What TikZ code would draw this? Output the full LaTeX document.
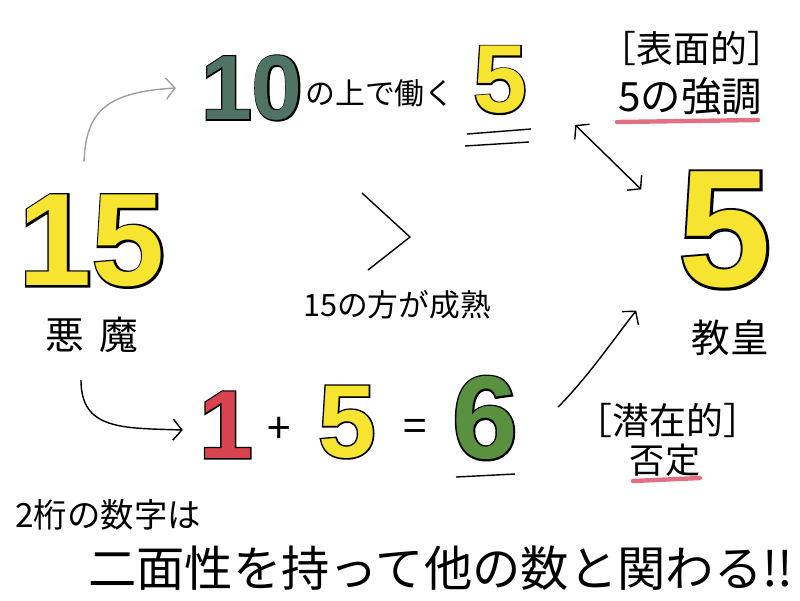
\documentclass[tikz,border=0pt]{standalone}
\usepackage{fontspec}
\setmainfont{Noto Sans CJK JP}
\newfontfamily\digitfill{Liberation Sans Bold}
\newfontfamily\digitedge{Liberation Sans Bold}[FakeBold=3]
\usetikzlibrary{arrows.meta,calc}
\definecolor{penyellow}{HTML}{F6E431}
\definecolor{slategreen}{HTML}{4F7364}
\definecolor{markred}{HTML}{D8434F}
\definecolor{leafgreen}{HTML}{5A9140}
\definecolor{underred}{HTML}{E0566C}
% coloured hand digit with a black rim
\newcommand\handnum[2]{\rlap{\digitedge #2}{\color{#1}\digitfill #2}}

\begin{document}
\begin{tikzpicture}[x=0.02cm, y=-0.02cm,
  numsize/.style={inner sep=0pt, font=\fontsize{#1}{#1}\selectfont},
  hand/.style={inner sep=0pt, font=\fontsize{#1}{#1}\selectfont},
  arr/.style={-{Straight Barb[length=5pt,width=12pt]}, line width=0.8pt},
  arrboth/.style={{Straight Barb[length=5pt,width=12pt]}-{Straight Barb[length=5pt,width=12pt]}, line width=0.8pt},
  redmark/.style={line width=2.5pt, draw=underred, line cap=round, opacity=0.85}]
  \useasboundingbox (0,0) rectangle (800,600);

  % left: 15
  \node[numsize=75] (n15) at (92,241) {\handnum{penyellow}{15}};
  \node[hand=22] (akuma) at (92,335) {悪\hspace{0.4em}魔};

  % top row
  \node[numsize=52] (n10) at (252,88) {\handnum{slategreen}{10}};
  \node[hand=17] (ue) at (380,93) {の上で働く};
  \node[numsize=55] (n5top) at (500,80) {\handnum{penyellow}{5}};
  \draw[line width=0.8pt] (467,134) -- (531,129);
  \draw[line width=0.8pt] (465,146) -- (529,142);

  \node[hand=21] (hyomen) at (692,48) {［表面的］};
  \node[hand=23] (kyocho) at (690,96) {5の強調};
  \draw[redmark] (617,122) -- (758,120);

  % middle
  \draw[line width=0.8pt] (362,193) -- (410,237) -- (368,270);
  \node[hand=17.5] (seijuku) at (397,305) {15の方が成熟};

  % right: 5
  \node[numsize=95] (n5right) at (725,230) {\handnum{penyellow}{5}};
  \node[hand=22] (kyokou) at (730,338) {教皇};

  % bottom row
  \node[numsize=55] (n1) at (226,425) {\handnum{markred}{1}};
  \node[hand=24] (plus) at (279,430) {+};
  \node[numsize=59] (n5bot) at (347,422) {\handnum{penyellow}{5}};
  \node[hand=24] (eq) at (415,430) {=};
  \node[numsize=67] (n6) at (485,418) {\handnum{leafgreen}{6}};
  \draw[line width=0.8pt] (456,477) -- (515,474);

  \node[hand=21] (senzai) at (668,420) {［潜在的］};
  \node[hand=20] (hitei) at (665,460) {否定};
  \draw[redmark] (633,481) -- (700,478);

  % conclusion
  \node[hand=19, anchor=west] (line1) at (15,515) {2桁の数字は};
  \node[hand=27.5, anchor=west] (line2) at (88,568) {二面性を持って他の数と関わる!!};

  % arrows
  \draw[arr, gray!75] ($(n15.north)+(-8,-33)$) .. controls +(2,-50) and +(-70,4) .. ($(n10.west)+(-25,0)$);
  \draw[arr] ($(akuma.south)+(-11,27)$) .. controls +(0,50) and +(-60,-2) .. ($(n1.west)+(-16,5)$);
  \draw[arrboth] ($(n5top.east)+(48,45)$) -- ($(n5right.north west)+(-37,18)$);
  \draw[arr] ($(n6.east)+(40,-11)$) .. controls +(30,-30) and +(-20,25) .. ($(n5right.south west)+(-42,22)$);
\end{tikzpicture}
\end{document}
